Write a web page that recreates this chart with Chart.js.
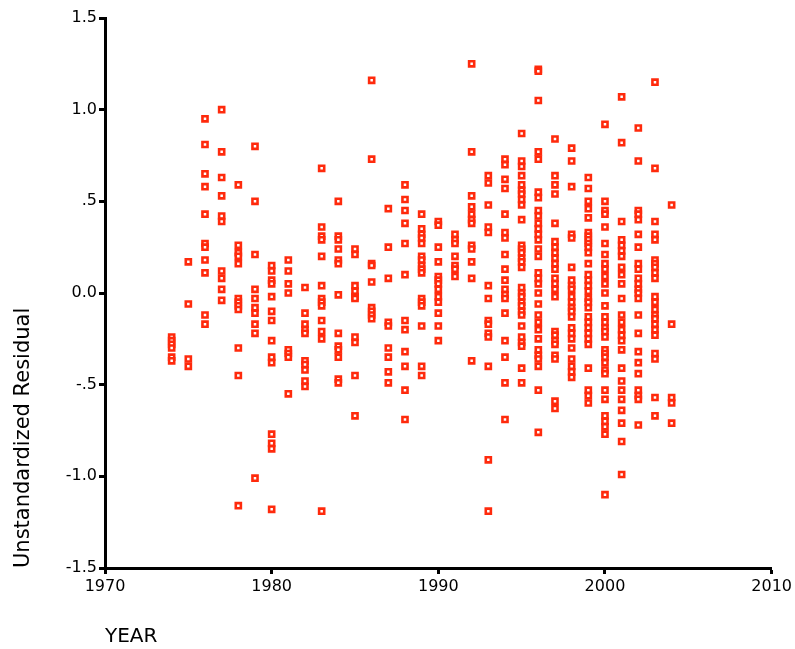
<!DOCTYPE html>
<html>
<head>
<meta charset="utf-8">
<script src="https://cdn.jsdelivr.net/npm/chart.js@4.4.1/dist/chart.umd.min.js"></script>
<style>
  html, body { margin: 0; padding: 0; background: #fff; }
  #wrap { width: 795px; height: 649px; position: relative; }
</style>
</head>
<body>
<div id="wrap"><canvas id="chart" width="795" height="649"></canvas></div>
<script>
const YEARS = [1974, 1975, 1976, 1977, 1978, 1979, 1980, 1981, 1982, 1983, 1984, 1985, 1986, 1987, 1988,
  1989, 1990, 1991, 1992, 1993, 1994, 1995, 1996, 1997, 1998, 1999, 2000, 2001, 2002, 2003, 2004];

// residuals, one list per year (same order as YEARS)
const RESIDUALS = [
  [-0.24, -0.26, -0.28, -0.30, -0.35, -0.37],
  [0.17, -0.06, -0.36, -0.40],
  [0.95, 0.81, 0.65, 0.58, 0.43, 0.27, 0.25, 0.18, 0.11, -0.12, -0.17],
  [1.00, 0.77, 0.63, 0.53, 0.42, 0.39, 0.12, 0.08, 0.02, -0.04],
  [0.59, 0.26, 0.22, 0.20, 0.16, -0.03, -0.05, -0.07, -0.09, -0.30, -0.45, -1.16],
  [0.80, 0.50, 0.21, 0.02, -0.03, -0.08, -0.11, -0.17, -0.22, -1.01],
  [0.15, 0.12, 0.07, 0.05, -0.02, -0.10, -0.15, -0.26, -0.35, -0.38, -0.77, -0.82, -0.85, -1.18],
  [0.18, 0.12, 0.05, 0.00, -0.31, -0.33, -0.35, -0.55],
  [0.03, -0.11, -0.17, -0.20, -0.22, -0.37, -0.39, -0.42, -0.48, -0.51],
  [0.68, 0.36, 0.31, 0.29, 0.20, 0.04, -0.03, -0.05, -0.07, -0.15, -0.21, -0.25, -1.19],
  [0.50, 0.31, 0.29, 0.24, 0.18, 0.16, -0.01, -0.22, -0.29, -0.31, -0.35, -0.47, -0.49],
  [0.24, 0.21, 0.04, 0.01, -0.02, -0.03, -0.24, -0.27, -0.45, -0.67],
  [1.16, 0.73, 0.16, 0.15, 0.06, -0.08, -0.10, -0.12, -0.14],
  [0.46, 0.25, 0.08, -0.16, -0.18, -0.30, -0.35, -0.43, -0.49],
  [0.59, 0.51, 0.45, 0.38, 0.27, 0.10, -0.15, -0.20, -0.32, -0.40, -0.53, -0.69],
  [0.43, 0.35, 0.32, 0.30, 0.27, 0.20, 0.18, 0.15, 0.13, 0.11, -0.03, -0.05, -0.07, -0.18, -0.40, -0.45],
  [0.39, 0.37, 0.25, 0.17, 0.09, 0.07, 0.05, 0.02, -0.02, -0.05, -0.11, -0.18, -0.26],
  [0.32, 0.29, 0.27, 0.20, 0.15, 0.13, 0.09],
  [1.25, 0.77, 0.53, 0.47, 0.43, 0.40, 0.38, 0.26, 0.24, 0.17, 0.08, -0.37],
  [0.64, 0.60, 0.48, 0.36, 0.33, 0.04, -0.03, -0.15, -0.17, -0.22, -0.24, -0.40, -0.91, -1.19],
  [0.73, 0.70, 0.62, 0.57, 0.43, 0.33, 0.30, 0.21, 0.13, 0.07, 0.02, -0.01, -0.03, -0.11, -0.26, -0.35, -0.49, -0.69],
  [0.87, 0.72, 0.69, 0.64, 0.59, 0.56, 0.54, 0.51, 0.48, 0.40, 0.26, 0.24, 0.22, 0.19, 0.17, 0.14, 0.03, 0.00,
    -0.02, -0.05, -0.07, -0.10, -0.12, -0.18, -0.24, -0.27, -0.29, -0.41, -0.49],
  [1.22, 1.21, 1.05, 0.77, 0.73, 0.55, 0.52, 0.45, 0.42, 0.38, 0.35, 0.32, 0.29, 0.24, 0.20, 0.11, 0.08, 0.05,
    0.00, -0.06, -0.12, -0.16, -0.20, -0.25, -0.31, -0.34, -0.36, -0.40, -0.53, -0.76],
  [0.84, 0.64, 0.59, 0.54, 0.38, 0.28, 0.25, 0.22, 0.19, 0.16, 0.13, 0.08, 0.05, 0.02, -0.02, -0.21, -0.23,
    -0.26, -0.28, -0.34, -0.36, -0.59, -0.63],
  [0.79, 0.72, 0.58, 0.32, 0.30, 0.14, 0.07, 0.04, 0.02, -0.02, -0.05, -0.08, -0.10, -0.13, -0.19, -0.22,
    -0.25, -0.30, -0.36, -0.40, -0.43, -0.46],
  [0.63, 0.57, 0.50, 0.46, 0.41, 0.33, 0.31, 0.29, 0.27, 0.25, 0.22, 0.16, 0.10, 0.07, 0.04, 0.01, -0.03,
    -0.05, -0.08, -0.13, -0.16, -0.19, -0.22, -0.25, -0.28, -0.41, -0.53, -0.56, -0.60],
  [0.92, 0.50, 0.45, 0.43, 0.36, 0.27, 0.21, 0.16, 0.13, 0.09, 0.05, 0.00, -0.07, -0.13, -0.16, -0.19, -0.21,
    -0.24, -0.31, -0.33, -0.35, -0.38, -0.42, -0.44, -0.53, -0.58, -0.67, -0.70, -0.73, -0.77, -1.10],
  [1.07, 0.82, 0.39, 0.29, 0.26, 0.23, 0.20, 0.14, 0.10, 0.05, -0.03, -0.12, -0.16, -0.20, -0.23, -0.26,
    -0.31, -0.41, -0.48, -0.53, -0.58, -0.64, -0.71, -0.81, -0.99],
  [0.90, 0.72, 0.45, 0.43, 0.40, 0.32, 0.25, 0.16, 0.13, 0.08, 0.05, 0.02, 0.00, -0.03, -0.12, -0.22, -0.32,
    -0.38, -0.44, -0.53, -0.56, -0.58, -0.72],
  [1.15, 0.68, 0.39, 0.32, 0.29, 0.18, 0.16, 0.14, 0.11, 0.08, -0.02, -0.05, -0.09, -0.12, -0.14, -0.17,
    -0.20, -0.23, -0.33, -0.36, -0.57, -0.67],
  [0.48, -0.17, -0.57, -0.60, -0.71],
];

const X_TICKS = [1970, 1980, 1990, 2000, 2010];
const Y_TICK_LABELS = { "1.5": "1.5", "1": "1.0", "0.5": ".5", "0": "0.0", "-0.5": "-.5", "-1": "-1.0", "-1.5": "-1.5" };

const MARK_COLOR = "#ff2a0c";
const FONT = "'DejaVu Sans', Verdana, sans-serif";

const points = YEARS.flatMap((yr, i) => RESIDUALS[i].map((v) => ({ x: yr, y: v })));

new Chart(document.getElementById("chart"), {
  type: "scatter",
  data: {
    datasets: [{
      data: points,
      pointStyle: "rect",
      pointRadius: 3.6,
      pointHoverRadius: 3.6,
      borderWidth: 2.6,
      borderColor: MARK_COLOR,
      backgroundColor: "#ffffff",
    }],
  },
  options: {
    responsive: false,
    animation: false,
    layout: { padding: { left: 8, right: 23, top: 18, bottom: 0 } },
    plugins: { legend: { display: false }, tooltip: { enabled: false } },
    scales: {
      x: {
        type: "linear",
        min: 1970,
        max: 2010,
        afterBuildTicks: (scale) => { scale.ticks = X_TICKS.map((v) => ({ value: v })); },
        afterFit: (scale) => { scale.height = 81; },
        ticks: { color: "#000", padding: 3, maxRotation: 0, font: { family: FONT, size: 16 }, callback: (v) => String(v) },
        grid: { drawOnChartArea: false, drawTicks: true, tickLength: 6, tickWidth: 3, color: "#000" },
        border: { color: "#000", width: 3 },
        title: { display: true, text: "YEAR", align: "start", color: "#000", padding: { top: 0, bottom: 0 }, font: { family: FONT, size: 20 } },
      },
      y: {
        min: -1.5,
        max: 1.5,
        afterFit: (scale) => { scale.width = 97; },
        ticks: { stepSize: 0.5, color: "#000", padding: 2, font: { family: FONT, size: 16 }, callback: (v) => Y_TICK_LABELS[String(v)] ?? "" },
        grid: { drawOnChartArea: false, drawTicks: true, tickLength: 6, tickWidth: 3, color: "#000" },
        border: { color: "#000", width: 3 },
        title: { display: true, text: "Unstandardized Residual", align: "start", color: "#000", padding: { top: 3, bottom: 0 }, font: { family: FONT, size: 21 } },
      },
    },
  },
});
</script>
</body>
</html>
